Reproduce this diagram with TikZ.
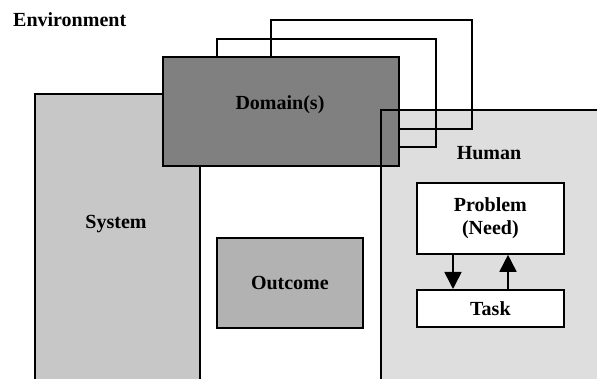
\documentclass[tikz,border=0pt]{standalone}
\usepackage{fontspec}
\setmainfont{Liberation Serif}
\usetikzlibrary{arrows.meta}
\begin{document}
\begin{tikzpicture}[x=1pt,y=-1pt,
  box/.style={draw=black,line width=1.8pt,rectangle,inner sep=0pt,anchor=north west},
  lbl/.style={font=\fontsize{20}{23}\selectfont\bfseries,inner sep=0pt,align=center},
  arr/.style={line width=1.6pt,-{Triangle[width=17pt,length=17pt]}}]
\useasboundingbox (0,0) rectangle (597,379);
\clip (0,0) rectangle (597,379);
% human fill (under frames)
\fill[black!13] (380,109) rectangle (620,400);
% domain frames
\node[box,minimum width=201pt,minimum height=109pt] (f3) at (270,19) {};
\node[box,minimum width=219pt,minimum height=108pt] (f2) at (216,38) {};
% system
\node[box,fill=black!22,minimum width=165pt,minimum height=320pt] (sys) at (34,93) {};
% domain
\node[box,fill=black!50,minimum width=236pt,minimum height=109pt] (dom) at (162,56) {};
% human border
\node[box,minimum width=240pt,minimum height=300pt] (hum) at (380,109) {};
% outcome
\node[box,fill=black!30,minimum width=146pt,minimum height=90pt] (out) at (216,237) {};
% problem and task
\node[box,fill=white,minimum width=147pt,minimum height=71pt] (prob) at (416,182) {};
\node[box,fill=white,minimum width=147pt,minimum height=37pt] (task) at (416,289) {};
\draw[arr] ([xshift=37pt]prob.south west) -- ([xshift=37pt]task.north west);
\draw[arr] ([xshift=92pt]task.north west) -- ([xshift=92pt]prob.south west);
% labels
\node[lbl,anchor=base west] (env) at (13,27) {Environment};
\node[lbl] (domt) at (280,105) {Domain(s)};
\node[lbl] (syst) at (116,224) {System};
\node[lbl] (humt) at (489,153) {Human};
\node[lbl] (outt) at (out.center) {Outcome};
\node[lbl] (probt) at (prob.center) {Problem\\(Need)};
\node[lbl] (taskt) at (task.center) {Task};
\end{tikzpicture}
\end{document}
